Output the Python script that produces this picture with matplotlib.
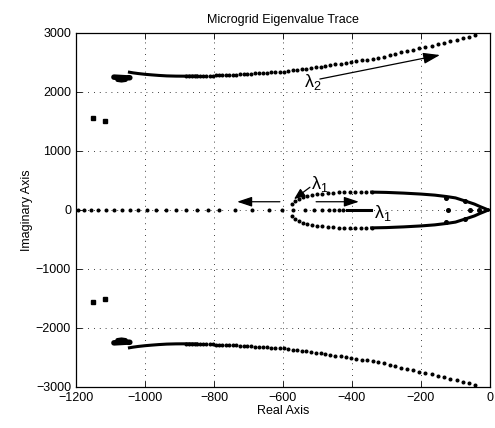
import matplotlib
matplotlib.use('Agg')
import matplotlib.pyplot as plt

plt.rcParams['font.family'] = ['Liberation Sans', 'DejaVu Sans']
plt.rcParams['mathtext.fontset'] = 'custom'
plt.rcParams['mathtext.rm'] = 'Liberation Sans'
plt.rcParams['mathtext.it'] = 'Liberation Sans'

# upper branch (lambda_2), dotted part
up_x = [-880, -872, -864, -856, -848, -840, -831, -822, -813, -804, -795, -786,
        -776, -766, -756, -746, -736, -725, -714, -703, -692, -681, -670, -658,
        -646, -634, -622, -610, -598, -585, -572, -559, -546, -533, -519, -505,
        -491, -477, -463, -448, -433, -418, -403, -388, -372, -356, -340, -324,
        -308, -291, -274, -257, -240, -223, -205, -187, -169, -151, -133, -115,
        -97, -79, -61, -43]
up_y = [2268, 2269, 2270, 2270, 2271, 2272, 2274, 2276, 2278, 2279, 2281, 2282,
        2284, 2286, 2288, 2291, 2295, 2299, 2304, 2309, 2313, 2316, 2320, 2324,
        2328, 2332, 2336, 2340, 2345, 2355, 2365, 2375, 2383, 2393, 2405, 2416,
        2428, 2441, 2453, 2467, 2480, 2494, 2507, 2521, 2535, 2549, 2566, 2583,
        2601, 2623, 2646, 2670, 2694, 2718, 2743, 2766, 2787, 2809, 2832, 2858,
        2885, 2912, 2940, 2968]
# dense (solid looking) start of the branch
upd_x = [-1045, -1035, -1020, -1000, -980, -960, -937, -910, -880, -850]
upd_y = [2335, 2325, 2313, 2300, 2290, 2281, 2273, 2269, 2268, 2270]
# blob left of the branch
blob_x = [-1090, -1078, -1066, -1054, -1044]
blob_y = [2252, 2248, 2244, 2240, 2242]
blob2_x = [-1080, -1068, -1056]
blob2_y = [2205, 2195, 2205]
# isolated poles
iso_x = [-1150, -1117]
iso_y = [1560, 1515]

# real axis poles
ra_x = [-1195, -1177, -1156, -1135, -1113, -1091, -1068, -1044, -1020, -995,
        -968, -940, -910, -881, -849, -818, -785, -738, -690, -642, -602]
ri_x = [-572, -535, -510, -488, -468, -452, -438, -425]
rl_x = [-415, -345]

# loop (lambda_1), upper half
el_x = [-574, -566, -555, -543, -530, -516, -501, -486, -470, -454, -438, -422,
        -406, -390, -374, -358, -343]
el_y = [105, 150, 185, 213, 236, 254, 268, 279, 287, 293, 297, 300, 302, 303,
        303, 303, 303]
eld_x = [-343, -300, -250, -200, -160, -126, -100, -68, -45, -29, -15, -5]
eld_y = [303, 298, 286, 270, 252, 228, 205, 145, 100, 58, 25, 0]

# extra poles near the origin
ex_x = [-128, -72, -128, -72, -121, -58, -31]
ex_y = [205, 145, -205, -145, 0, 0, 0]

fig = plt.figure(figsize=(4.95, 4.28), dpi=100)
ax = fig.add_axes([0.1535, 0.0958, 0.8364, 0.8271])

dot = dict(color='k', marker='o', markersize=1.9, linestyle='none')
ax.plot(up_x, up_y, **dot)
ax.plot(up_x, [-v for v in up_y], **dot)
ax.plot(upd_x, upd_y, color='k', lw=2.2)
ax.plot(upd_x, [-v for v in upd_y], color='k', lw=2.2)
ax.plot(blob_x, blob_y, color='k', lw=4, solid_capstyle='round')
ax.plot(blob_x, [-v for v in blob_y], color='k', lw=4, solid_capstyle='round')
ax.plot(blob2_x, blob2_y, color='k', lw=3, solid_capstyle='round')
ax.plot(blob2_x, [-v for v in blob2_y], color='k', lw=3, solid_capstyle='round')
ax.plot(iso_x, iso_y, color='k', marker='s', markersize=2.6, linestyle='none')
ax.plot(iso_x, [-v for v in iso_y], color='k', marker='s', markersize=2.6, linestyle='none')

ax.plot(ra_x, [0] * len(ra_x), **dot)
ax.plot(ri_x, [0] * len(ri_x), **dot)
ax.plot(rl_x, [0, 0], color='k', lw=2.2)

ax.plot(el_x, el_y, **dot)
ax.plot(el_x, [-v for v in el_y], **dot)
ax.plot(eld_x, eld_y, color='k', lw=2.2)
ax.plot(eld_x, [-v for v in eld_y], color='k', lw=2.2)
ax.plot(ex_x, ex_y, color='k', marker='o', markersize=2.6, linestyle='none')

# arrows and labels
def arrow(tail, head, hl=0.6, hw=0.2, ms=15):
    ax.annotate('', xy=head, xytext=tail,
                arrowprops=dict(arrowstyle='-|>,head_length=%g,head_width=%g' % (hl, hw),
                                color='k', lw=0.9, mutation_scale=ms,
                                shrinkA=0, shrinkB=0))

arrow((-493, 2220), (-145, 2627), ms=17)
arrow((-609, 140), (-733, 140))
arrow((-504, 140), (-380, 140))
arrow((-522, 385), (-568, 185), hl=0.6, hw=0.25, ms=11)

ax.text(-540, 2085, r'$\lambda_2$', fontsize=13, ha='left', va='baseline')
ax.text(-518, 351, r'$\lambda_1$', fontsize=13, ha='left', va='baseline')
ax.text(-336, -130, r'$\lambda_1$', fontsize=13, ha='left', va='baseline')

ax.set_xlim(-1200, 0)
ax.set_ylim(-3000, 3000)
ax.set_xticks(range(-1200, 1, 200))
ax.set_yticks(range(-3000, 3001, 1000))
ax.tick_params(direction='in', top=True, right=True, labelsize=9, length=4, width=0.6)
ax.grid(True, color='k', linestyle=(0, (1, 6)), linewidth=0.6)
ax.set_axisbelow(True)
for s in ax.spines.values():
    s.set_linewidth(0.9)

ax.set_title('Microgrid Eigenvalue Trace', fontsize=9, pad=7)
ax.set_xlabel('Real Axis', fontsize=9, labelpad=1)
ax.set_ylabel('Imaginary Axis', fontsize=9, labelpad=2)

fig.savefig('out.png', dpi=100)
